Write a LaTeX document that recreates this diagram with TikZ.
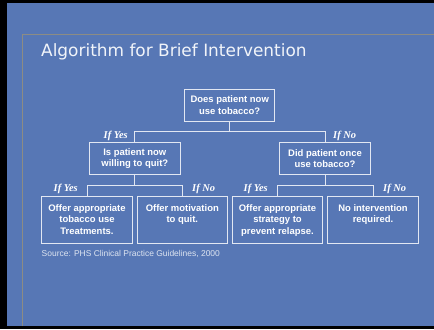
\documentclass[tikz,border=0pt]{standalone}
\usepackage{fontspec}
\setmainfont{Liberation Sans}
\newfontfamily\titlefont{DejaVu Sans}
\newfontfamily\answerfont{Liberation Serif}
\usetikzlibrary{positioning}
\definecolor{slide}{HTML}{5777B5}
\definecolor{frameline}{HTML}{8C8C84}
\definecolor{edge}{HTML}{E2E7F2}
\newcommand{\acttext}[1]{\parbox[c][31pt][t]{88pt}{\centering #1}}
\tikzset{
  x=1bp, y=-1bp,
  title/.style={
      font=\titlefont\fontsize{17}{20}\selectfont,
      text=white!92!slide,
      anchor=base west,
      inner sep=0pt
    },
  ask/.style={
      rectangle,
      draw=edge,
      line width=1pt,
      text=white,
      align=center,
      font=\bfseries\fontsize{9.5}{11.4}\selectfont,
      minimum width=90.5bp,
      minimum height=32bp,
      inner sep=0pt
    },
  act/.style={
      ask,
      minimum height=46.5bp
    },
  link/.style={
      draw=edge,
      line width=1pt
    },
  ans/.style={
      font=\answerfont\bfseries\itshape\fontsize{10.5}{12}\selectfont,
      text=white,
      inner sep=0pt
    },
  src/.style={
      font=\fontsize{8.5}{10}\selectfont,
      text=white!80!slide,
      anchor=base west,
      inner sep=0pt
    }
}
\begin{document}
\begin{tikzpicture}
  \useasboundingbox (0,0) rectangle (434,329);
  \fill[slide] (0,0) rectangle (434,329);
  \fill[black] (0,0) rectangle (7,329);
  \fill[black] (0,0) rectangle (434,3);
  \fill[black] (0,326) rectangle (434,329);
  \draw[frameline, line width=0.8pt] (22,326) -- (22,34) -- (434,34);
  \node[title] (head) at (41,56) {Algorithm for Brief Intervention};

  \node[ask] (now) at (229.7,105.2) {Does patient now\\use tobacco?};
  \node[ask] (quit) at (134.8,158.8) {Is patient now\\willing to quit?};
  \node[ask] (once) at (325,158.8) {Did patient once\\use tobacco?};
  \node[act] (treat) at (87,220) {\acttext{Offer appropriate\\tobacco use\\Treatments.}};
  \node[act] (motiv) at (182.3,220) {\acttext{Offer motivation\\to quit.}};
  \node[act] (relapse) at (277.5,220) {\acttext{Offer appropriate\\strategy to\\prevent relapse.}};
  \node[act] (none) at (373,220) {\acttext{No intervention\\required.}};

  \coordinate (j1) at (229.7,131.7);
  \coordinate (j2) at (134.8,185.7);
  \coordinate (j3) at (325,185.7);
  \draw[link] (now) -- (j1);
  \draw[link] (quit.north) |- (j1) -| (once.north);
  \draw[link] (quit) -- (j2);
  \draw[link] (treat.north) |- (j2) -| (motiv.north);
  \draw[link] (once) -- (j3);
  \draw[link] (relapse.north) |- (j3) -| (none.north);

  \node[ans, anchor=base east] (yes1) at (128,138.5) {If Yes};
  \node[ans, anchor=base west] (no1) at (333,138.5) {If No};
  \node[ans, anchor=base east] (yes2) at (78,191) {If Yes};
  \node[ans, anchor=base west] (no2) at (192,191) {If No};
  \node[ans, anchor=base east] (yes3) at (268,191) {If Yes};
  \node[ans, anchor=base west] (no3) at (383,191) {If No};

  \node[src] (source) at (41.5,256.5) {Source: PHS Clinical Practice Guidelines, 2000};
\end{tikzpicture}
\end{document}
